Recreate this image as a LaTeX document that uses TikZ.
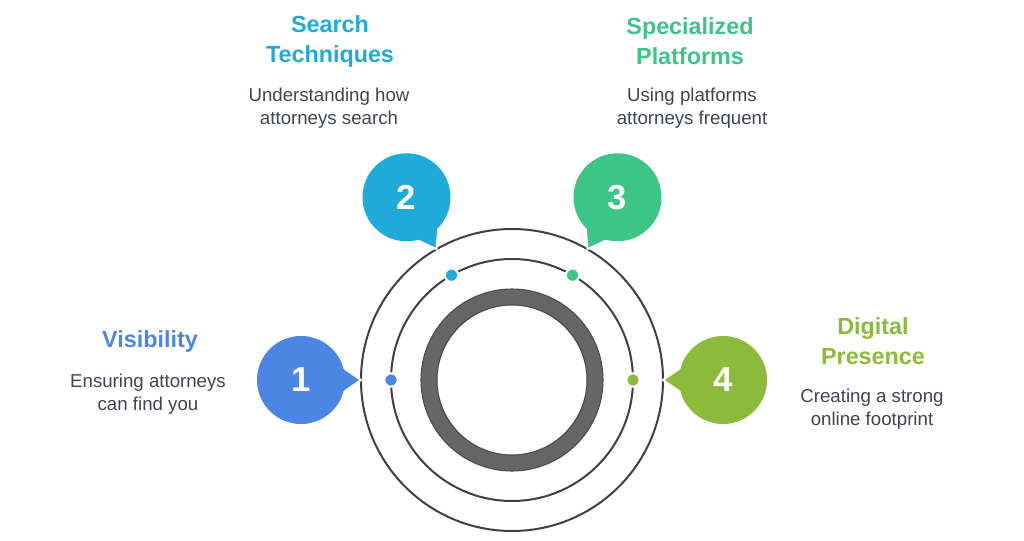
\documentclass[tikz,border=0pt]{standalone}
\usepackage{fontspec}
\setmainfont{Liberation Sans}
\usepackage{tikz}
\usetikzlibrary{positioning}
\definecolor{cvis}{HTML}{4B86E5}
\definecolor{csearch}{HTML}{1FAAD9}
\definecolor{cplat}{HTML}{3DC487}
\definecolor{cdig}{HTML}{8CBB3B}
\definecolor{ctext}{HTML}{3D4451}
\definecolor{cline}{HTML}{404040}
\definecolor{cring}{HTML}{666666}
\definecolor{cringedge}{HTML}{4A4A4A}

\begin{document}
\begin{tikzpicture}[x=0.75pt,y=0.75pt,
    bubble/.style={circle, minimum size=66pt, inner sep=0pt, text=white,
      font=\fontsize{26}{26}\selectfont\bfseries},
    dot/.style={circle, minimum size=10pt, inner sep=0pt, draw=white, line width=1.5pt},
    title/.style={align=center, inner sep=0pt, font=\fontsize{17.5}{22.5}\selectfont\bfseries},
    desc/.style={align=center, inner sep=0pt, text=ctext, font=\fontsize{14}{17.25}\selectfont}]
			\useasboundingbox (-512,-160) rectangle (512,380);
			\coordinate (O) at (0,0);
			% rings
			\draw[cline, line width=1.5pt] (O) circle (151);
			\draw[cline, line width=1.5pt] (O) circle (121);
			\filldraw[fill=cring, draw=cringedge, line width=0.8pt, even odd rule] (O) circle (91) (O) circle (75);
			% bubbles with tails
			\foreach \i/\a/\c in {1/180/cvis, 2/120/csearch, 3/60/cplat, 4/0/cdig} {
				\begin{scope}[shift={(\a:211)}, rotate=\a+180]
					\fill[\c, draw=white, line width=1.5pt] (18:43) -- (60,0) -- (-18:43) -- cycle;
				\end{scope}
				\node[bubble, fill=\c] (b\i) at (\a:211) {\i};
				\node[dot, fill=\c] (d\i) at (\a:121) {};
			}
			% labels
			\node[title, text=cvis] (visT) at (-362,39) {Visibility};
			\node[desc] (visD) at (-364,-14) {Ensuring attorneys\\can find you};
			\node[title, text=csearch] (seaT) at (-182,339) {Search\\Techniques};
			\node[desc] (seaD) at (-183,272) {Understanding how\\attorneys search};
			\node[title, text=cplat] (plaT) at (178,339) {Specialized\\Platforms};
			\node[desc] (plaD) at (180,272) {Using platforms\\attorneys frequent};
			\node[title, text=cdig] (digT) at (361,39) {Digital\\Presence};
			\node[desc] (digD) at (360,-29) {Creating a strong\\online footprint};
		\end{tikzpicture}
\end{document}
